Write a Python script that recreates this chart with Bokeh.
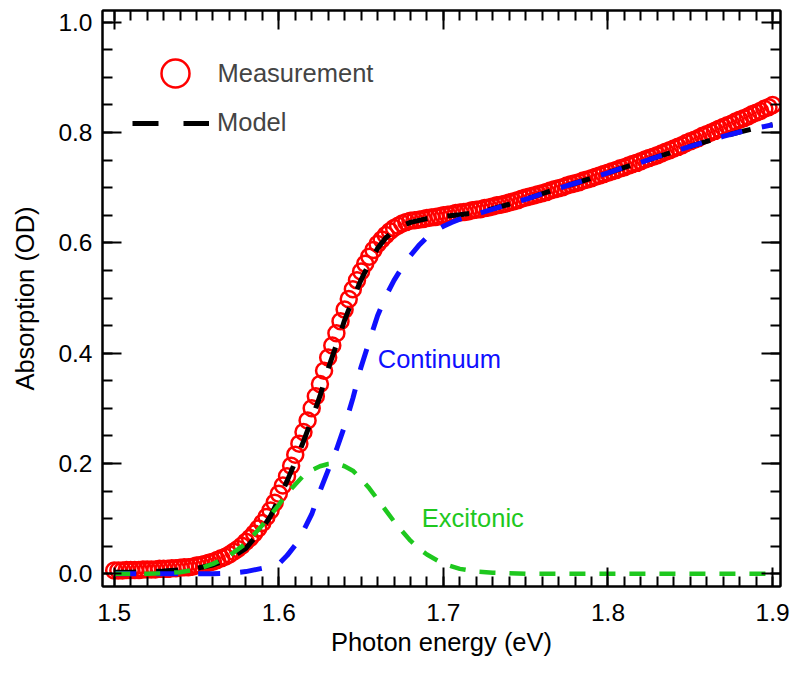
from bokeh.plotting import figure
from bokeh.models import (Range1d, LinearAxis, SingleIntervalTicker, PrintfTickFormatter,
                          CustomJSTickFormatter, Legend, LegendItem, Label)
from bokeh.embed import file_html
from bokeh.resources import INLINE

# ---------------- data ----------------
meas_start = 1.5
meas_step = 0.0025
meas_y = [
    0.006, 0.006, 0.006, 0.007, 0.007, 0.007, 0.007, 0.008, 0.008, 0.008,
    0.008, 0.009, 0.009, 0.009, 0.010, 0.010, 0.011, 0.012, 0.012, 0.013,
    0.015, 0.016, 0.018, 0.020, 0.022, 0.025, 0.028, 0.031, 0.035, 0.040,
    0.045, 0.051, 0.058, 0.065, 0.073, 0.082, 0.092, 0.103, 0.115, 0.129,
    0.145, 0.160, 0.177, 0.196, 0.216, 0.236, 0.257, 0.278, 0.300, 0.322,
    0.344, 0.368, 0.392, 0.414, 0.436, 0.458, 0.479, 0.498, 0.516, 0.532,
    0.548, 0.562, 0.575, 0.587, 0.598, 0.606, 0.614, 0.621, 0.627, 0.631,
    0.635, 0.638, 0.640, 0.641, 0.642, 0.643, 0.645, 0.646, 0.647, 0.648,
    0.650, 0.651, 0.652, 0.654, 0.655, 0.656, 0.657, 0.659, 0.660, 0.661,
    0.663, 0.664, 0.666, 0.668, 0.669, 0.671, 0.673, 0.675, 0.677, 0.680,
    0.682, 0.684, 0.686, 0.688, 0.690, 0.692, 0.695, 0.697, 0.699, 0.701,
    0.704, 0.706, 0.708, 0.710, 0.713, 0.715, 0.717, 0.720, 0.722, 0.725,
    0.727, 0.730, 0.732, 0.735, 0.737, 0.740, 0.743, 0.745, 0.748, 0.751,
    0.754, 0.756, 0.759, 0.762, 0.765, 0.768, 0.771, 0.774, 0.777, 0.781,
    0.784, 0.787, 0.790, 0.794, 0.797, 0.800, 0.803, 0.807, 0.810, 0.813,
    0.816, 0.820, 0.823, 0.826, 0.829, 0.833, 0.836, 0.839, 0.843, 0.846,
    0.850,
]
meas_x = [round(meas_start + meas_step * i, 4) for i in range(len(meas_y))]

model_x = [1.50, 1.51, 1.52, 1.53, 1.54, 1.55, 1.56, 1.57, 1.58, 1.59, 1.595,
           1.60, 1.605, 1.61, 1.615, 1.62, 1.625, 1.63, 1.635, 1.64, 1.645,
           1.65, 1.655, 1.66, 1.665, 1.67, 1.675, 1.68, 1.69, 1.70, 1.71,
           1.72, 1.73, 1.74, 1.75, 1.76, 1.77, 1.78, 1.79, 1.80, 1.81, 1.82,
           1.83, 1.84, 1.85, 1.86, 1.87, 1.88, 1.89, 1.90]
model_y = [0.003, 0.003, 0.004, 0.005, 0.007, 0.010, 0.016, 0.027, 0.046, 0.082, 0.105,
           0.135, 0.168, 0.203, 0.240, 0.280, 0.322, 0.372, 0.415, 0.460, 0.498,
           0.533, 0.563, 0.590, 0.609, 0.622, 0.631, 0.637, 0.644, 0.648, 0.651,
           0.655, 0.662, 0.670, 0.679, 0.689, 0.699, 0.708, 0.717, 0.727, 0.737, 0.746,
           0.756, 0.765, 0.775, 0.784, 0.793, 0.801, 0.808, 0.814]

cont_x = [1.50, 1.52, 1.54, 1.55, 1.56, 1.57, 1.58, 1.59, 1.595, 1.60, 1.605,
          1.61, 1.615, 1.62, 1.625, 1.63, 1.635, 1.64, 1.645, 1.65, 1.655,
          1.66, 1.665, 1.67, 1.675, 1.68, 1.685, 1.69, 1.695, 1.70, 1.705,
          1.71, 1.72, 1.73, 1.74, 1.75, 1.76, 1.77, 1.78, 1.79, 1.80, 1.81,
          1.82, 1.83, 1.84, 1.85, 1.86, 1.87, 1.88, 1.89, 1.90]
cont_y = [0.0, 0.0, 0.0, 0.0, 0.0, 0.001, 0.004, 0.010, 0.014, 0.018, 0.033,
          0.052, 0.078, 0.108, 0.150, 0.188, 0.225, 0.268, 0.318, 0.375, 0.422,
          0.468, 0.503, 0.532, 0.556, 0.577, 0.595, 0.610, 0.622, 0.630, 0.637,
          0.643, 0.652, 0.661, 0.670, 0.679, 0.689, 0.699, 0.708, 0.717, 0.727, 0.737,
          0.746, 0.756, 0.765, 0.775, 0.784, 0.793, 0.801, 0.808, 0.814]

exc_x = [1.50, 1.52, 1.53, 1.54, 1.55, 1.56, 1.57, 1.58, 1.59, 1.60, 1.605,
         1.61, 1.615, 1.62, 1.625, 1.63, 1.635, 1.64, 1.645, 1.65, 1.655,
         1.66, 1.665, 1.67, 1.675, 1.68, 1.685, 1.69, 1.70, 1.71, 1.72,
         1.73, 1.75, 1.80, 1.85, 1.90]
exc_y = [0.0, 0.0, 0.001, 0.003, 0.008, 0.018, 0.033, 0.055, 0.088, 0.125, 0.145,
         0.162, 0.178, 0.188, 0.195, 0.199, 0.200, 0.195, 0.187, 0.172, 0.155,
         0.135, 0.115, 0.095, 0.077, 0.060, 0.046, 0.035, 0.018, 0.009, 0.004,
         0.002, 0.0, 0.0, 0.0, 0.0]

# ---------------- style ----------------
FONT = "Liberation Sans"
RED = "#ff0000"
BLUE = "#1010ff"
GREEN = "#1ec81e"

p = figure(width=795, height=658, output_backend="svg", toolbar_location=None,
           x_range=Range1d(1.4929, 1.9048), y_range=Range1d(-0.023, 1.0212),
           min_border_left=102, min_border_right=15, min_border_top=10, min_border_bottom=72,
           x_axis_label="Photon energy (eV)", y_axis_label="Absorption (OD)")
p.xgrid.visible = False
p.ygrid.visible = False
p.outline_line_color = "black"
p.outline_line_width = 2
p.background_fill_color = "white"
p.border_fill_color = "white"

xt = SingleIntervalTicker(interval=0.1, num_minor_ticks=10)
yt = SingleIntervalTicker(interval=0.2, num_minor_ticks=4)


def style_axis(ax, labels=True):
    ax.axis_line_color = "black"
    ax.axis_line_width = 2
    ax.major_tick_in = 19
    ax.major_tick_out = 0
    ax.minor_tick_in = 10
    ax.minor_tick_out = 0
    ax.major_tick_line_width = 2
    ax.minor_tick_line_width = 2
    ax.major_tick_line_color = "black"
    ax.minor_tick_line_color = "black"
    if labels:
        ax.major_label_text_font = FONT
        ax.major_label_text_font_size = "24.5px"
        ax.major_label_text_color = "black"
        ax.axis_label_text_font = FONT
        ax.axis_label_text_font_size = "25.5px"
        ax.axis_label_text_font_style = "normal"
        ax.axis_label_text_color = "black"
    else:
        ax.formatter = CustomJSTickFormatter(code="return ''")
        ax.major_label_standoff = 0


xa = p.xaxis[0]
xa.ticker = xt
xa.formatter = PrintfTickFormatter(format="%.1f")
style_axis(xa)
xa.major_label_standoff = 17
xa.axis_label_standoff = 4

ya = p.yaxis[0]
ya.ticker = yt
ya.formatter = PrintfTickFormatter(format="%.1f")
style_axis(ya)
ya.major_label_standoff = 10
ya.axis_label_standoff = 16

top = LinearAxis(ticker=SingleIntervalTicker(interval=0.1, num_minor_ticks=10))
style_axis(top, labels=False)
p.add_layout(top, "above")
right = LinearAxis(ticker=SingleIntervalTicker(interval=0.2, num_minor_ticks=4))
style_axis(right, labels=False)
p.add_layout(right, "right")

# ---------------- glyphs ----------------
meas_r = p.scatter(meas_x, meas_y, marker="circle", size=16, fill_color=None,
                   line_color=RED, line_width=2.5)
model_r = p.line(model_x, model_y, line_color="black", line_width=5, line_dash="22 20")
p.line(cont_x, cont_y, line_color=BLUE, line_width=5, line_dash="22 20")
p.line(exc_x, exc_y, line_color=GREEN, line_width=4.5, line_dash="16 14")

# legend-only line (no visible data), drawn with the legend's longer dashes
nan = float("nan")
legend_line = p.line([nan, nan], [nan, nan], line_color="black", line_width=5,
                     line_dash="26 25")

leg1 = Legend(items=[LegendItem(label="Measurement", renderers=[meas_r])],
              location=(37.5, 478), glyph_width=70, glyph_height=70, label_standoff=8,
              padding=0, margin=0, border_line_color=None, background_fill_alpha=0,
              label_text_font=FONT, label_text_font_size="25.5px", label_height=26)
leg2 = Legend(items=[LegendItem(label="Model", renderers=[legend_line])],
              location=(30, 449), glyph_width=77, glyph_height=26, label_standoff=8,
              padding=0, margin=0, border_line_color=None, background_fill_alpha=0,
              label_text_font=FONT, label_text_font_size="25.5px", label_height=26)
p.add_layout(leg1)
p.add_layout(leg2)

p.add_layout(Label(x=1.6601, y=0.389, text="Continuum", text_color=BLUE,
                   text_font=FONT, text_font_size="25.5px", text_baseline="middle"))
p.add_layout(Label(x=1.6869, y=0.101, text="Excitonic", text_color=GREEN,
                   text_font=FONT, text_font_size="25.5px", text_baseline="middle"))

open("out.html", "w").write(file_html(p, INLINE))
